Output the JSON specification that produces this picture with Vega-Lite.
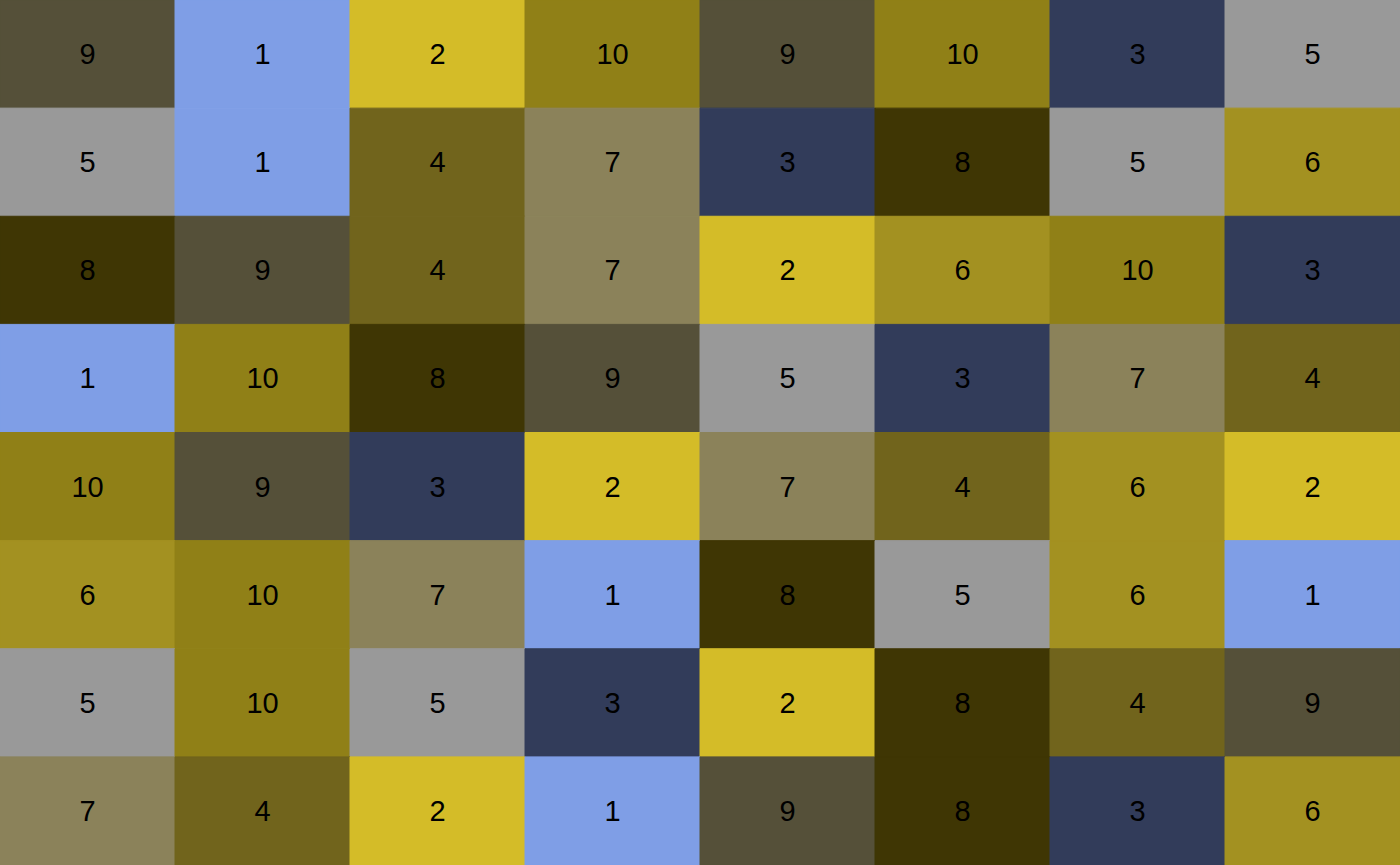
{
  "$schema": "https://vega.github.io/schema/vega-lite/v6.json",
  "width": 1400,
  "height": 865,
  "autosize": {"type": "none"},
  "padding": 0,
  "background": "white",
  "config": {"view": {"stroke": null}},
  "data": {"values": [
    {"row": 1, "col": 1, "value": 9}, {"row": 1, "col": 2, "value": 1}, {"row": 1, "col": 3, "value": 2}, {"row": 1, "col": 4, "value": 10}, {"row": 1, "col": 5, "value": 9}, {"row": 1, "col": 6, "value": 10}, {"row": 1, "col": 7, "value": 3}, {"row": 1, "col": 8, "value": 5},
    {"row": 2, "col": 1, "value": 5}, {"row": 2, "col": 2, "value": 1}, {"row": 2, "col": 3, "value": 4}, {"row": 2, "col": 4, "value": 7}, {"row": 2, "col": 5, "value": 3}, {"row": 2, "col": 6, "value": 8}, {"row": 2, "col": 7, "value": 5}, {"row": 2, "col": 8, "value": 6},
    {"row": 3, "col": 1, "value": 8}, {"row": 3, "col": 2, "value": 9}, {"row": 3, "col": 3, "value": 4}, {"row": 3, "col": 4, "value": 7}, {"row": 3, "col": 5, "value": 2}, {"row": 3, "col": 6, "value": 6}, {"row": 3, "col": 7, "value": 10}, {"row": 3, "col": 8, "value": 3},
    {"row": 4, "col": 1, "value": 1}, {"row": 4, "col": 2, "value": 10}, {"row": 4, "col": 3, "value": 8}, {"row": 4, "col": 4, "value": 9}, {"row": 4, "col": 5, "value": 5}, {"row": 4, "col": 6, "value": 3}, {"row": 4, "col": 7, "value": 7}, {"row": 4, "col": 8, "value": 4},
    {"row": 5, "col": 1, "value": 10}, {"row": 5, "col": 2, "value": 9}, {"row": 5, "col": 3, "value": 3}, {"row": 5, "col": 4, "value": 2}, {"row": 5, "col": 5, "value": 7}, {"row": 5, "col": 6, "value": 4}, {"row": 5, "col": 7, "value": 6}, {"row": 5, "col": 8, "value": 2},
    {"row": 6, "col": 1, "value": 6}, {"row": 6, "col": 2, "value": 10}, {"row": 6, "col": 3, "value": 7}, {"row": 6, "col": 4, "value": 1}, {"row": 6, "col": 5, "value": 8}, {"row": 6, "col": 6, "value": 5}, {"row": 6, "col": 7, "value": 6}, {"row": 6, "col": 8, "value": 1},
    {"row": 7, "col": 1, "value": 5}, {"row": 7, "col": 2, "value": 10}, {"row": 7, "col": 3, "value": 5}, {"row": 7, "col": 4, "value": 3}, {"row": 7, "col": 5, "value": 2}, {"row": 7, "col": 6, "value": 8}, {"row": 7, "col": 7, "value": 4}, {"row": 7, "col": 8, "value": 9},
    {"row": 8, "col": 1, "value": 7}, {"row": 8, "col": 2, "value": 4}, {"row": 8, "col": 3, "value": 2}, {"row": 8, "col": 4, "value": 1}, {"row": 8, "col": 5, "value": 9}, {"row": 8, "col": 6, "value": 8}, {"row": 8, "col": 7, "value": 3}, {"row": 8, "col": 8, "value": 6}
  ]},
  "encoding": {
    "x": {"field": "col", "type": "ordinal", "axis": null, "scale": {"paddingInner": 0, "paddingOuter": 0}},
    "y": {"field": "row", "type": "ordinal", "axis": null, "scale": {"paddingInner": 0, "paddingOuter": 0}}
  },
  "layer": [
    {
      "mark": {"type": "rect", "strokeWidth": 1},
      "encoding": {
        "color": {
          "field": "value", "type": "ordinal", "legend": null,
          "scale": {
            "domain": [1, 2, 3, 4, 5, 6, 7, 8, 9, 10],
            "range": ["#7F9EE6", "#D4BC28", "#323C5A", "#71641C", "#999999", "#A39121", "#8B825A", "#3F3604", "#555039", "#908017"]
          }
        },
        "stroke": {
          "field": "value", "type": "ordinal", "legend": null,
          "scale": {
            "domain": [1, 2, 3, 4, 5, 6, 7, 8, 9, 10],
            "range": ["#7F9EE6", "#D4BC28", "#323C5A", "#71641C", "#999999", "#A39121", "#8B825A", "#3F3604", "#555039", "#908017"]
          }
        }
      }
    },
    {
      "mark": {"type": "text", "font": "Liberation Sans", "fontSize": 29, "color": "black", "baseline": "middle", "align": "center", "dy": 1},
      "encoding": {"text": {"field": "value", "type": "quantitative"}}
    }
  ]
}
